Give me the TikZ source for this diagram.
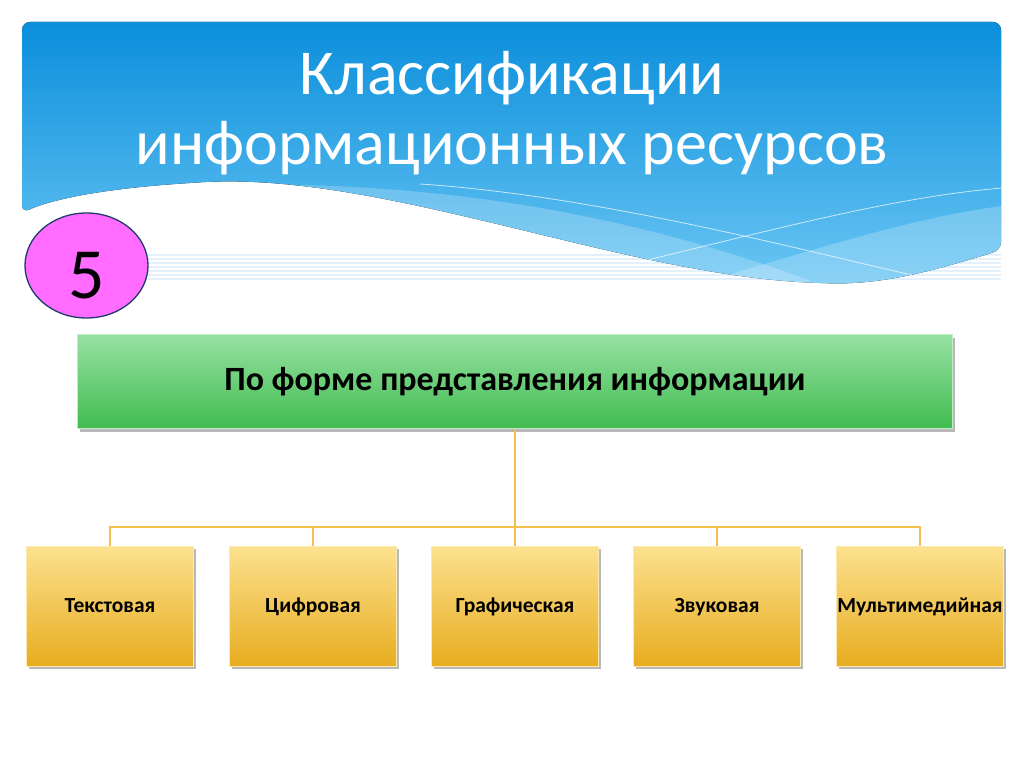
\documentclass[tikz,border=0pt]{standalone}
\usepackage{fontspec}
\setmainfont{Carlito}
\usetikzlibrary{shapes.geometric}
\definecolor{hdrtop}{HTML}{0A8EDB}
\definecolor{hdrbot}{HTML}{6CC7F4}
\definecolor{grtop}{HTML}{96E1A2}
\definecolor{grbot}{HTML}{41BC50}
\definecolor{ortop}{HTML}{FCE18F}
\definecolor{orbot}{HTML}{E8AD20}
\definecolor{conn}{HTML}{F3C04A}
\definecolor{pinkfill}{HTML}{FF6CFF}
\definecolor{ringblue}{HTML}{1F3A6A}
\definecolor{stripe}{HTML}{E2F1FB}
\tikzset{
  titletext/.style={anchor=base, text=white, font=\fontsize{64}{72}\selectfont, inner sep=0pt},
  shadowed/.style={preaction={fill=black, opacity=0.28, transform canvas={xshift=2pt,yshift=-3pt}}},
  headbox/.style={shadowed, rectangle, top color=grtop, bottom color=grbot, draw=grtop!60!white, line width=0.8pt,
    minimum width=875pt, minimum height=94pt, inner sep=0pt, text height=22pt, text depth=5pt,
    font=\fontsize{34}{40}\selectfont\bfseries},
  leafbox/.style={shadowed, rectangle, top color=ortop, bottom color=orbot, draw=ortop!70!white, line width=0.8pt,
    minimum width=167pt, minimum height=120pt, inner sep=0pt, text height=16pt, text depth=4pt,
    font=\fontsize{21.5}{26}\selectfont\bfseries},
  conline/.style={draw=conn, line width=2pt},
  badge/.style={ellipse, fill=pinkfill, draw=ringblue, line width=1.3pt, minimum width=123pt, minimum height=105pt,
    inner sep=0pt, text height=65pt, text depth=0pt, font=\fontsize{72}{80}\selectfont}
}
\begin{document}
\begin{tikzpicture}[x=1pt,y=-1pt]
\useasboundingbox (0,0) rectangle (1024,767);
\fill[white] (0,0) rectangle (1024,767);
% faint stripes under the header
\foreach \yy in {255,259,263,267,271,275,279}
  \draw[stripe, line width=1.6pt] (148,\yy) -- (1001,\yy);
% header
\begin{scope}
\clip[rounded corners=8pt] (22,213) -- (22,22) -- (1001,22) -- (1001,250)
  .. controls (930,272) and (880,285) .. (820,283)
  .. controls (620,275) and (380,170) .. (190,183)
  .. controls (100,189) and (50,200) .. (22,213) -- cycle;
\fill[top color=hdrtop, bottom color=hdrbot] (20,20) rectangle (1003,290);
\fill[white, opacity=0.22] (300,185) .. controls (520,190) and (700,235) .. (860,300) -- (300,300) -- cycle;
\fill[white, opacity=0.22] (640,300) .. controls (780,262) and (900,218) .. (1010,205) -- (1010,300) -- cycle;
\draw[white, opacity=0.7, line width=0.8pt] (420,184) .. controls (600,196) and (800,250) .. (925,278);
\draw[white, opacity=0.7, line width=0.8pt] (635,263) .. controls (780,228) and (900,196) .. (1003,188);
\end{scope}
% title
\node[titletext] (t1) at (512,95) {Классификации};
\node[titletext] (t2) at (512,165) {информационных ресурсов};
% badge
\node[badge] (num) at (86.5,265.5) {5};
% boxes
\node[headbox] (root) at (515,381.5) {По форме представления информации};
\node[leafbox] (b1) at (110,606) {Текстовая};
\node[leafbox] (b2) at (313,606) {Цифровая};
\node[leafbox] (b3) at (515,606) {Графическая};
\node[leafbox] (b4) at (717,606) {Звуковая};
\node[leafbox] (b5) at (920,606) {Мультимедийная};
% connectors
\coordinate (hub) at (515,527);
\draw[conline] (root.south) -- (hub);
\foreach \b in {b1,b2,b3,b4,b5}
  \draw[conline] (hub) -| (\b.north);
\end{tikzpicture}
\end{document}
